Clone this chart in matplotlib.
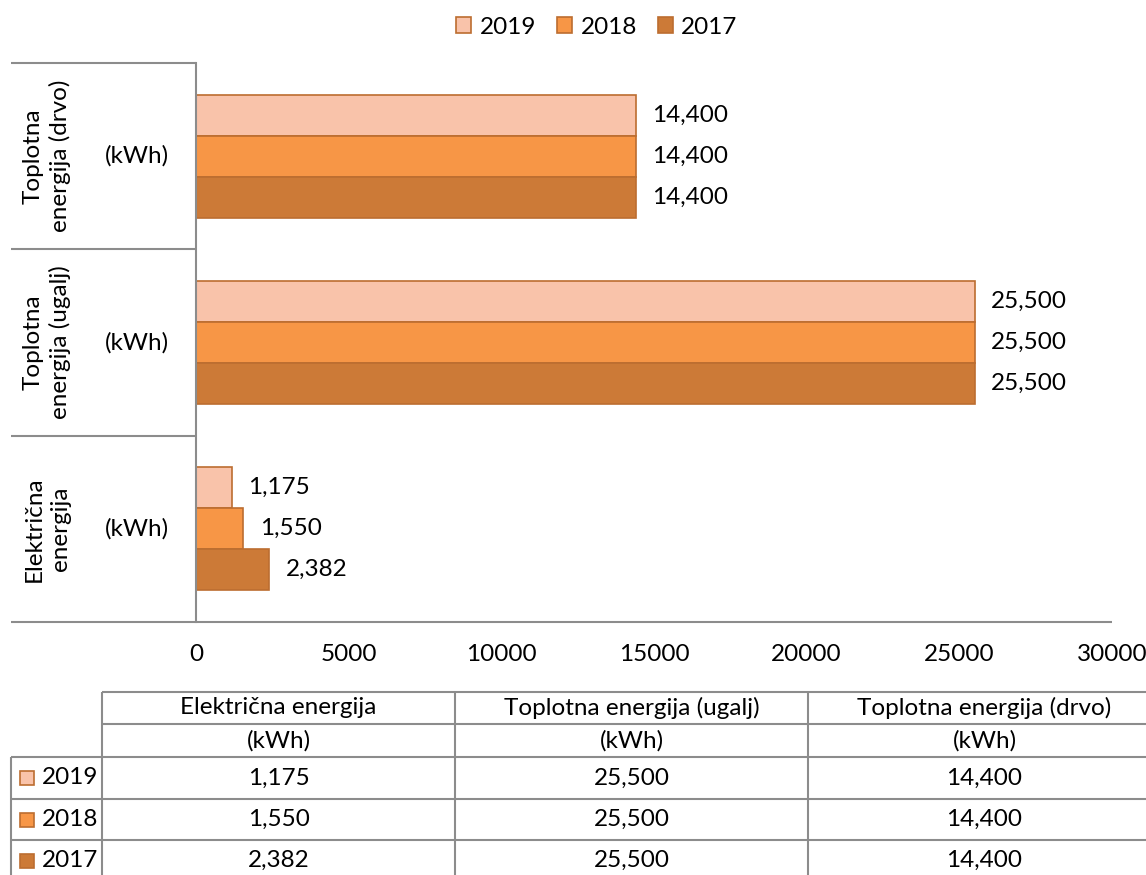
import matplotlib
matplotlib.use("Agg")
import matplotlib.pyplot as plt
import matplotlib.transforms as mtransforms
from matplotlib.patches import Rectangle, Patch
import numpy as np

# ---------------- data ----------------
categories = ["Električna energija", "Toplotna energija (ugalj)", "Toplotna energija (drvo)"]
cat_axis_labels = ["Električna\nenergija", "Toplotna\nenergija (ugalj)", "Toplotna\nenergija (drvo)"]
unit = "(kWh)"
years = ["2019", "2018", "2017"]
values_2019 = [1175, 25500, 14400]
values_2018 = [1550, 25500, 14400]
values_2017 = [2382, 25500, 14400]
xticks = [0, 5000, 10000, 15000, 20000, 25000, 30000]

series = [values_2019, values_2018, values_2017]
colors = ["#F9C3AA", "#F79646", "#CC7A37"]
edge = "#BC6D30"
gridc = "#8C8C8C"

plt.rcParams["font.family"] = ["Lato", "DejaVu Sans"]
FS = 17.5

W, H = 1146, 875
fig = plt.figure(figsize=(W / 100, H / 100), dpi=100)

L, R, T, B = 196, 1112, 63, 622
ax = fig.add_axes([L / W, 1 - B / H, (R - L) / W, (B - T) / H])

y = np.arange(len(categories))
bh = 0.22
offsets = [bh, 0.0, -bh]
for vals, off, col, yr in zip(series, offsets, colors, years):
    bars = ax.barh(y + off, vals, height=bh, color=col, edgecolor=edge, linewidth=1.2, label=yr)
    for b, v in zip(bars, vals):
        ax.annotate(f"{v:,}", (b.get_width(), b.get_y() + b.get_height() / 2),
                    xytext=(12, 0), textcoords="offset points", va="center", ha="left",
                    fontsize=FS, color="black")

ax.set_xlim(0, 30000)
ax.set_ylim(-0.5, len(categories) - 0.5)
ax.set_xticks(xticks)
ax.set_xticklabels([str(t) for t in xticks], fontsize=FS)
ax.set_yticks([])
ax.tick_params(axis="x", length=0, pad=16)
for s in ["top", "right", "bottom"]:
    ax.spines[s].set_visible(False)
ax.spines["left"].set_color(gridc)
ax.spines["left"].set_linewidth(1.5)

# overlay in pixel coordinates
ov = fig.add_axes([0, 0, 1, 1], zorder=5)
ov.set_xlim(0, W)
ov.set_ylim(H, 0)
ov.axis("off")
ov.patch.set_visible(False)

blend = mtransforms.blended_transform_factory(ov.transData, ax.transData)
# category axis
for yb in np.arange(-0.5, len(categories), 1.0):
    x1 = R if yb == -0.5 else L
    ov.plot([11, x1], [yb, yb], color=gridc, lw=1.5, transform=blend, solid_capstyle="butt")
for i, lab in enumerate(cat_axis_labels):
    ov.text(47, i, lab, rotation=90, ha="center", va="center", fontsize=FS,
            transform=blend, linespacing=1.3, multialignment="center")
    ov.text(137, i, unit, ha="center", va="center", fontsize=FS, transform=blend)

# legend
handles = [Patch(facecolor=c, edgecolor=edge, linewidth=1.2, label=yr) for c, yr in zip(colors, years)]
fig.legend(handles=handles, loc="center", bbox_to_anchor=(597 / W, 1 - 27 / H), ncol=3,
           frameon=False, fontsize=FS, handlelength=0.62, handleheight=0.62,
           handletextpad=0.35, columnspacing=0.85, borderaxespad=0)

# data table
col_x = [102, 455, 808, 1161]
row_y = [692, 724, 757, 799, 840, 881]
lw = 1.5
for yy in row_y:
    x0 = 11 if yy >= 757 else 102
    ov.plot([x0, col_x[-1]], [yy, yy], color=gridc, lw=lw, solid_capstyle="butt")
for xx in col_x:
    ov.plot([xx, xx], [692, row_y[-1]], color=gridc, lw=lw, solid_capstyle="butt")
ov.plot([11, 11], [757, row_y[-1]], color=gridc, lw=lw, solid_capstyle="butt")

for j, cat in enumerate(categories):
    cx = (col_x[j] + col_x[j + 1]) / 2
    ov.text(cx, (row_y[0] + row_y[1]) / 2, cat, ha="center", va="center", fontsize=FS)
    ov.text(cx, (row_y[1] + row_y[2]) / 2, unit, ha="center", va="center", fontsize=FS)
for i, (vals, col, yr) in enumerate(zip(series, colors, years)):
    cy = (row_y[2 + i] + row_y[3 + i]) / 2
    ov.add_patch(Rectangle((20, cy - 7), 14, 14, facecolor=col, edgecolor=edge, lw=1.2))
    ov.text(42, cy, yr, ha="left", va="center", fontsize=FS)
    for j, v in enumerate(vals):
        cx = (col_x[j] + col_x[j + 1]) / 2
        ov.text(cx, cy, f"{v:,}", ha="center", va="center", fontsize=FS)

fig.savefig("out.png", dpi=100)
